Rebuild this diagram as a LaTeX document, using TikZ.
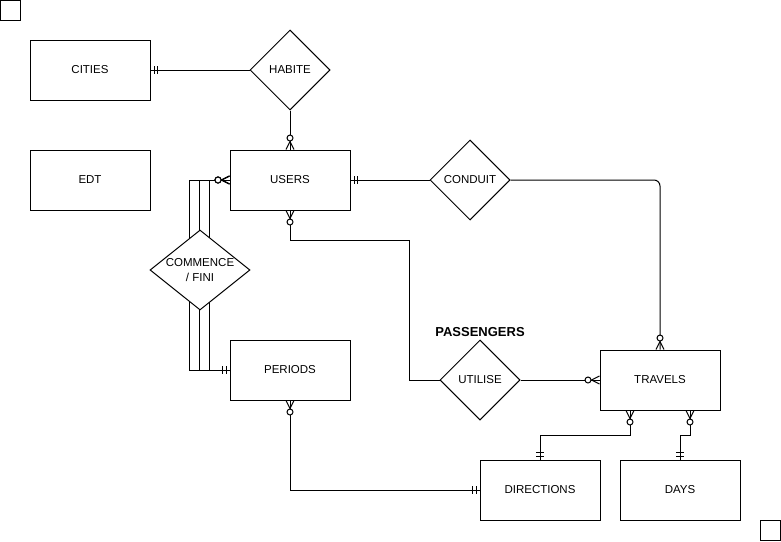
\documentclass[tikz,border=0pt]{standalone}
\usepackage{fontspec}
\setmainfont{Liberation Sans}
\usetikzlibrary{shapes.geometric,positioning}

% ER ends: two bars (exactly one), circle and crow's foot (zero or many)
\pgfdeclarearrow{
  name = ERone,
  setup code = {
    \pgfarrowssettipend{0pt}
    \pgfarrowssetlineend{0pt}
    \pgfarrowssetbackend{-8pt}
    \pgfarrowshullpoint{0pt}{4pt}
    \pgfarrowshullpoint{-8pt}{4pt}
    \pgfarrowshullpoint{-8pt}{-4pt}
    \pgfarrowshullpoint{0pt}{-4pt}
  },
  drawing code = {
    \pgfpathmoveto{\pgfpoint{-3.5pt}{3.8pt}}
    \pgfpathlineto{\pgfpoint{-3.5pt}{-3.8pt}}
    \pgfpathmoveto{\pgfpoint{-7pt}{3.8pt}}
    \pgfpathlineto{\pgfpoint{-7pt}{-3.8pt}}
    \pgfusepathqstroke
  }
}
\pgfdeclarearrow{
  name = ERmany,
  setup code = {
    \pgfarrowssettipend{0pt}
    \pgfarrowssetlineend{0pt}
    \pgfarrowssetbackend{-15pt}
    \pgfarrowshullpoint{0pt}{4pt}
    \pgfarrowshullpoint{-15pt}{3pt}
    \pgfarrowshullpoint{-15pt}{-3pt}
    \pgfarrowshullpoint{0pt}{-4pt}
  },
  drawing code = {
    \pgfpathmoveto{\pgfpoint{0pt}{4pt}}
    \pgfpathlineto{\pgfpoint{-8pt}{0pt}}
    \pgfpathlineto{\pgfpoint{0pt}{-4pt}}
    \pgfusepathqstroke
    \pgfpathcircle{\pgfpoint{-11.5pt}{0pt}}{3pt}
    \pgfsetfillcolor{white}
    \pgfusepathqfillstroke
  }
}

\newcommand{\erfont}{\fontsize{11.5}{15}\selectfont}

\begin{document}
\begin{tikzpicture}[x=1pt,y=-1pt,on grid,line width=1pt,
  every node/.style={font=\erfont},
  entity/.style={draw,fill=white,minimum width=120pt,minimum height=60pt,inner sep=0pt},
  relation/.style={draw,fill=white,diamond,aspect=1,inner sep=0pt,minimum width=80pt,minimum height=80pt},
  cornerbox/.style={draw,minimum size=20pt,inner sep=0pt}]
  \path[use as bounding box,fill=white] (0,0) rectangle (781,541);

  \path
  node[entity] (cities) at (90,70) {CITIES}
  node[relation] (habite) [right=200pt of cities] {HABITE}
  node[entity] (edt) [below=110pt of cities] {EDT}
  node[entity] (users) [below=110pt of habite] {USERS}
  node[relation] (conduit) [right=180pt of users] {CONDUIT}
  node[entity] (periods) [below=190pt of users] {PERIODS}
  node[relation] (utilise) [below right=200pt and 190pt of users] {UTILISE}
  node[font=\fontsize{13}{15}\selectfont\bfseries] (passengers) [above=48pt of utilise] {PASSENGERS}
  node[entity] (travels) [right=180pt of utilise] {TRAVELS}
  node[entity] (directions) [below left=110pt and 120pt of travels] {DIRECTIONS}
  node[entity] (days) [right=140pt of directions] {DAYS}
  node[cornerbox] (topleft) at (10.5,10.5) {}
  node[cornerbox] (bottomright) at (770.5,530.5) {}
  ;

  \draw[ERmany-ERone] (users.west) -- ++(-40,0) |- (periods.west);
  \draw[ERmany-ERone] (users.west) -- ++(-30,0) |- (periods.west);
  \draw[ERmany-ERone] (users.west) -- ++(-20,0) |- (periods.west);
  \node[relation,minimum width=100pt,inner sep=-3pt,align=center]
    (commence) [below left=90pt and 90pt of users] {COMMENCE\\/ FINI};

  \path
  (cities) edge[ERone-] (habite)
  (habite) edge[-ERmany] (users)
  (users) edge[ERone-] (conduit)
  (utilise) edge[-ERmany] (travels)
  ;
  \draw[-ERmany,rounded corners=6pt] (conduit) -| (travels);
  \draw[ERmany-] (users.south) -- ++(0,30) -| ([xshift=-30pt]utilise.west) -- (utilise.west);
  \draw[ERmany-ERone] (periods) |- (directions);
  \draw[ERmany-ERone] ([xshift=-30pt]travels.south) -- ++(0,25) -| (directions);
  \draw[ERmany-ERone] ([xshift=30pt]travels.south) -- ++(0,25) -| (days);
\end{tikzpicture}
\end{document}
